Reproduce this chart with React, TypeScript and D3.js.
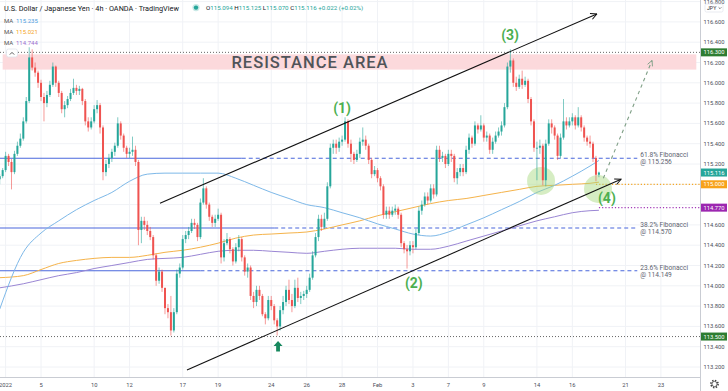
import React from 'react';
import * as d3 from 'd3';

// 4h USD/JPY bars, first bar is Dec 31 16:00 (bar index -2), Jan 3 00:00 is index 0
const firstIndex = -2;
const firstOpen = 115.05;
const closes = [
  115.08, 115.14,
  115.28, 115.22, 115.12, 115.30, 115.38, 115.45, // Jan 3
  115.62, 115.82, 116.25, 116.15, 116.10, 116.00, // Jan 4
  115.86, 115.80, 115.88, 115.98, 116.16, 116.00, // Jan 5
  115.90, 115.74, 115.78, 115.84, 115.90, 115.95, // Jan 6
  115.92, 115.94, 115.82, 115.62, 115.56, 115.62, // Jan 7
  115.74, 115.78, 115.56, 115.12, 115.20, 115.26, // Jan 10
  115.32, 115.38, 115.60, 115.48, 115.36, 115.30, // Jan 11
  115.32, 115.34, 115.22, 114.55, 114.64, 114.60, // Jan 12
  114.54, 114.48, 114.30, 114.05, 114.14, 113.98, // Jan 13
  113.78, 113.74, 113.56, 113.74, 114.12, 114.18, // Jan 14
  114.46, 114.50, 114.54, 114.62, 114.60, 114.48, // Jan 17
  114.82, 114.96, 114.80, 114.68, 114.62, 114.66, // Jan 18
  114.70, 114.28, 114.42, 114.46, 114.36, 114.24, // Jan 19
  114.38, 114.46, 114.28, 114.14, 114.18, 113.90, // Jan 20
  113.84, 113.96, 113.90, 113.72, 113.68, 113.86, // Jan 21
  113.80, 113.66, 113.60, 113.76, 113.84, 113.96, // Jan 24
  113.86, 113.80, 113.98, 113.88, 113.90, 113.92, // Jan 25
  113.96, 114.08, 114.30, 114.48, 114.66, 114.58, // Jan 26
  114.66, 114.98, 115.36, 115.40, 115.36, 115.42, // Jan 27
  115.44, 115.62, 115.40, 115.30, 115.24, 115.30, // Jan 28
  115.42, 115.44, 115.38, 115.24, 115.10, 115.14, // Jan 31
  115.06, 114.98, 114.70, 114.74, 114.70, 114.74, // Feb 1
  114.76, 114.70, 114.42, 114.36, 114.34, 114.40, // Feb 2
  114.38, 114.52, 114.74, 114.80, 114.88, 114.84, // Feb 3
  114.96, 114.90, 115.34, 115.26, 115.28, 115.20, // Feb 4
  115.30, 115.28, 115.06, 115.12, 115.16, 115.12, // Feb 7
  115.34, 115.46, 115.40, 115.58, 115.54, 115.58, // Feb 8
  115.46, 115.48, 115.34, 115.42, 115.48, 115.52, // Feb 9
  115.58, 115.76, 116.16, 116.22, 116.00, 115.96, // Feb 10
  116.04, 115.98, 116.02, 115.84, 115.62, 115.36, // Feb 11
  115.36, 115.38, 115.04, 115.40, 115.60, 115.56, // Feb 14
  115.48, 115.28, 115.46, 115.62, 115.58, 115.62, // Feb 15
  115.66, 115.58, 115.66, 115.56, 115.46, 115.42, // Feb 16
  115.40, 115.26, 115.094, 115.116                // Feb 17
];
const highs = [
  115.10, 115.16,
  115.32, 115.30, 115.25, 115.33, 115.42, 115.50,
  115.66, 115.86, 116.35, 116.33, 116.20, 116.12,
  116.03, 115.90, 115.92, 116.02, 116.20, 116.17,
  116.02, 115.92, 115.82, 115.87, 115.94, 116.04,
  115.98, 115.97, 115.95, 115.84, 115.66, 115.66,
  115.78, 115.83, 115.80, 115.58, 115.24, 115.30,
  115.35, 115.41, 115.66, 115.62, 115.50, 115.38,
  115.36, 115.47, 115.38, 115.24, 114.68, 114.68,
  114.64, 114.58, 114.50, 114.32, 114.18, 114.16,
  113.98, 113.82, 113.90, 113.78, 114.16, 114.22,
  114.50, 114.54, 114.58, 114.66, 114.66, 114.62,
  114.86, 115.06, 114.98, 114.82, 114.70, 114.70,
  114.76, 114.72, 114.46, 114.52, 114.48, 114.38,
  114.42, 114.50, 114.48, 114.30, 114.22, 114.20,
  113.94, 114.00, 114.00, 113.92, 113.74, 113.90,
  113.90, 113.82, 113.68, 113.80, 113.90, 114.00,
  114.06, 113.92, 114.06, 114.08, 113.94, 113.95,
  114.00, 114.12, 114.34, 114.52, 114.70, 114.70,
  114.72, 115.02, 115.40, 115.44, 115.44, 115.46,
  115.48, 115.66, 115.64, 115.44, 115.32, 115.34,
  115.46, 115.56, 115.48, 115.40, 115.26, 115.18,
  115.16, 115.08, 115.00, 114.78, 114.78, 114.78,
  114.80, 114.78, 114.72, 114.44, 114.40, 114.44,
  114.44, 114.56, 114.78, 114.84, 114.92, 114.92,
  115.00, 115.00, 115.38, 115.38, 115.32, 115.30,
  115.34, 115.34, 115.30, 115.16, 115.20, 115.20,
  115.38, 115.50, 115.48, 115.62, 115.60, 115.68,
  115.60, 115.52, 115.50, 115.46, 115.52, 115.56,
  115.62, 115.80, 116.20, 116.33, 116.24, 116.06,
  116.08, 116.12, 116.06, 116.04, 115.86, 115.64,
  115.42, 115.44, 115.40, 115.44, 115.64, 115.64,
  115.58, 115.50, 115.50, 115.84, 115.66, 115.66,
  115.70, 115.68, 115.76, 115.68, 115.58, 115.48,
  115.48, 115.42, 115.28, 115.125
];
const lows = [
  115.00, 115.06,
  115.12, 115.18, 114.95, 115.10, 115.28, 115.36,
  115.43, 115.60, 115.80, 116.12, 116.06, 115.95,
  115.82, 115.62, 115.76, 115.86, 115.96, 115.96,
  115.86, 115.70, 115.66, 115.75, 115.82, 115.88,
  115.88, 115.88, 115.78, 115.58, 115.52, 115.54,
  115.60, 115.70, 115.50, 115.04, 115.08, 115.16,
  115.22, 115.28, 115.36, 115.44, 115.32, 115.26,
  115.26, 115.28, 115.18, 114.40, 114.42, 114.55,
  114.50, 114.45, 114.26, 114.00, 114.02, 113.94,
  113.72, 113.68, 113.51, 113.54, 113.72, 114.08,
  114.16, 114.42, 114.46, 114.52, 114.56, 114.44,
  114.46, 114.80, 114.76, 114.64, 114.58, 114.58,
  114.64, 114.22, 114.24, 114.40, 114.32, 114.20,
  114.22, 114.34, 114.24, 114.10, 114.08, 113.86,
  113.78, 113.80, 113.86, 113.70, 113.62, 113.66,
  113.76, 113.62, 113.51, 113.56, 113.72, 113.80,
  113.82, 113.74, 113.78, 113.84, 113.82, 113.86,
  113.88, 113.94, 114.06, 114.28, 114.44, 114.54,
  114.56, 114.64, 114.96, 115.30, 115.30, 115.32,
  115.38, 115.42, 115.36, 115.22, 115.20, 115.22,
  115.26, 115.38, 115.34, 115.20, 115.06, 115.08,
  115.02, 114.94, 114.66, 114.66, 114.66, 114.68,
  114.70, 114.66, 114.38, 114.32, 114.17, 114.30,
  114.32, 114.36, 114.50, 114.70, 114.78, 114.80,
  114.82, 114.86, 114.88, 115.22, 115.22, 115.16,
  115.18, 115.22, 115.02, 115.00, 115.08, 115.08,
  115.10, 115.30, 115.36, 115.38, 115.50, 115.52,
  115.42, 115.42, 115.30, 115.30, 115.40, 115.46,
  115.48, 115.56, 115.74, 116.10, 115.96, 115.92,
  115.94, 115.94, 115.96, 115.80, 115.58, 115.32,
  115.04, 115.30, 114.99, 114.98, 115.38, 115.50,
  115.44, 115.24, 115.26, 115.44, 115.54, 115.56,
  115.58, 115.54, 115.56, 115.52, 115.42, 115.38,
  115.36, 115.22, 115.03, 115.07
];

// moving averages, read once per trading day
const maIdx = [-2, 6, 12, 18, 24, 30, 36, 42, 48, 54, 60, 66, 72, 78, 84, 90, 96, 102, 108, 114,
  120, 126, 132, 138, 144, 150, 156, 162, 168, 174, 180, 186, 192, 198, 201];
const maFast = [113.77, 114.33, 114.52, 114.64, 114.75, 114.84, 114.92, 115.03, 115.10, 115.11, 115.11,
  115.11, 115.11, 115.06, 114.99, 114.92, 114.86, 114.80, 114.77, 114.72, 114.67, 114.61, 114.56,
  114.51, 114.49, 114.53, 114.60, 114.67, 114.75, 114.83, 114.92, 114.99, 115.08, 115.18, 115.235];
const maMid = [114.08, 114.10, 114.16, 114.22, 114.25, 114.27, 114.28, 114.28, 114.30, 114.33, 114.35,
  114.38, 114.42, 114.47, 114.50, 114.51, 114.52, 114.53, 114.56, 114.60, 114.64, 114.69, 114.73,
  114.77, 114.81, 114.84, 114.86, 114.89, 114.92, 114.95, 114.98, 114.99, 115.00, 115.01, 115.021];
const maSlow = [113.98, 114.02, 114.06, 114.10, 114.13, 114.17, 114.20, 114.23, 114.26, 114.27, 114.28,
  114.31, 114.34, 114.35, 114.35, 114.34, 114.33, 114.32, 114.34, 114.36, 114.37, 114.37, 114.37,
  114.36, 114.36, 114.39, 114.44, 114.49, 114.54, 114.59, 114.64, 114.68, 114.72, 114.74, 114.744];

const dateLabels = ["2022", "5", "10", "12", "17", "19", "24", "26", "28", "Feb", "3", "7", "9", "14", "16", "21", "23"];
const dateDays = [0, 2, 5, 7, 10, 12, 15, 17, 19, 21, 23, 25, 27, 30, 32, 35, 37];
const priceTicks = [113.2, 113.4, 113.6, 113.8, 114.0, 114.2, 114.4, 114.6, 114.8, 115.0, 115.2, 115.4,
  115.6, 115.8, 116.0, 116.2, 116.4, 116.6, 116.8];

const fibNames = ["61.8% Fibonacci", "38.2% Fibonacci", "23.6% Fibonacci"];
const fibPrices = [115.256, 114.570, 114.149];
const fibSolidTo = [80, 91, 66];
const fibEnd = 214;

const resistanceBand = [116.13, 116.28];
const resistanceFrom = -1;
const resistanceTo = 234;

const waveNames = ["(1)", "(2)", "(3)", "(4)"];
const waveIdx = [114, 138.3, 170.9, 203.7];
const wavePrice = [115.752, 114.028, 116.471, 114.865];

const channelUpper = [[52.3, 114.813], [200.3, 116.678]];
const channelLower = [[61.45, 113.171], [208.5, 115.05]];
const projection = [[202.5, 115.06], [219, 116.22]];
const touchIdx = [181.4, 200.7];
const touchPrice = [115.033, 114.954];
const arrowIdx = 92.3;
const arrowPrice = 113.456;

const axisBoxes = [
  { price: 116.3, label: "116.300", color: "#2e7d32" },
  { price: 115.116, label: "115.116", color: "#26a69a" },
  { price: 115.0, label: "115.000", color: "#f7a21b" },
  { price: 114.77, label: "114.770", color: "#9c27b0" },
  { price: 113.5, label: "113.500", color: "#2e7d32" },
];

const W = 728, H = 391, plotR = 700, plotB = 377;
const UP = "#26a69a", DOWN = "#ef5350";
const font = "Roboto, 'Noto Sans', sans-serif";

export default function App() {
  const x = d3.scaleLinear().domain([0, 222]).range([5.6, 660.9]);
  const y = d3.scaleLinear().domain([113.2, 116.6]).range([367, 21.9]);

  const bars = closes.map((c, k) => ({
    i: firstIndex + k,
    o: k === 0 ? firstOpen : closes[k - 1],
    h: highs[k],
    l: lows[k],
    c,
  }));

  const maLine = d3.line<number>()
    .x((_, k) => x(maIdx[k]))
    .y(v => y(v))
    .curve(d3.curveMonotoneX);

  const seg = (p: number[][]) => ({ x1: x(p[0][0]), y1: y(p[0][1]), x2: x(p[1][0]), y2: y(p[1][1]) });
  const up = seg(channelUpper), lo = seg(channelLower), pr = seg(projection);

  const ax = x(arrowIdx), ay = y(arrowPrice);

  // axis price labels hidden behind a coloured price box
  const visibleTicks = priceTicks.filter(p => axisBoxes.every(b => Math.abs(y(p) - y(b.price)) > 6));

  return (
    <div style={{ position: 'fixed', left: 0, top: 0 }}>
      <svg width={W} height={H} style={{ display: 'block', background: '#fff', fontFamily: font }}>
        <defs>
          <clipPath id="plot"><rect x={0} y={0} width={plotR} height={plotB} /></clipPath>
          <marker id="arr" viewBox="0 0 10 10" refX="9" refY="5" markerWidth="7" markerHeight="7" orient="auto">
            <path d="M1,1 L9,5 L1,9" fill="none" stroke="#111" strokeWidth="1.3" />
          </marker>
          <marker id="arrG" viewBox="0 0 10 10" refX="9" refY="5" markerWidth="6" markerHeight="6" orient="auto">
            <path d="M1,1 L9,5 L1,9" fill="none" stroke="#7f9f86" strokeWidth="1.3" />
          </marker>
        </defs>

        {/* grid */}
        <g stroke="#f0f2f6" strokeWidth={1}>
          {priceTicks.map(p => <line key={p} x1={0} x2={plotR} y1={y(p)} y2={y(p)} />)}
          {dateDays.map(d => <line key={d} x1={x(d * 6)} x2={x(d * 6)} y1={0} y2={plotB} />)}
        </g>

        <g clipPath="url(#plot)">
          {/* resistance area */}
          <rect x={x(resistanceFrom)} width={x(resistanceTo) - x(resistanceFrom)}
            y={y(resistanceBand[1])} height={y(resistanceBand[0]) - y(resistanceBand[1])} fill="#fcd9dc" />

          {/* full width dotted levels */}
          <line x1={0} x2={plotR} y1={y(116.3)} y2={y(116.3)} stroke="#555" strokeWidth={0.9} strokeDasharray="1,2" />
          <line x1={0} x2={plotR} y1={y(113.5)} y2={y(113.5)} stroke="#555" strokeWidth={0.9} strokeDasharray="1,2" />

          {/* fibonacci levels */}
          {fibPrices.map((p, k) => (
            <g key={p} stroke="#4a67dc" strokeWidth={1.1}>
              <line x1={0} x2={x(fibSolidTo[k])} y1={y(p)} y2={y(p)} />
              <line x1={x(fibSolidTo[k])} x2={x(fibEnd)} y1={y(p)} y2={y(p)} strokeDasharray="4,3" />
            </g>
          ))}

          {/* rays from last bar */}
          <line x1={x(200)} x2={plotR} y1={y(115.0)} y2={y(115.0)} stroke="#f5a623" strokeWidth={1.2} strokeDasharray="1.2,2" />
          <line x1={x(201)} x2={plotR} y1={y(114.77)} y2={y(114.77)} stroke="#a33bb8" strokeWidth={1.2} strokeDasharray="1.2,2" />

          {/* moving averages */}
          <path d={maLine(maSlow) || ''} fill="none" stroke="#9a86d4" strokeWidth={1} />
          <path d={maLine(maMid) || ''} fill="none" stroke="#f5b34a" strokeWidth={1} />
          <path d={maLine(maFast) || ''} fill="none" stroke="#7db8e8" strokeWidth={1} />

          {/* touch circles */}
          {touchIdx.map((t, k) => (
            <circle key={t} cx={x(t)} cy={y(touchPrice[k])} r={14} fill="#a5d67a" opacity={0.45} />
          ))}

          {/* candles */}
          {bars.map(b => {
            const col = b.c >= b.o ? UP : DOWN;
            const cx = x(b.i);
            const top = y(Math.max(b.o, b.c));
            const bot = y(Math.min(b.o, b.c));
            return (
              <g key={b.i}>
                <line x1={cx} x2={cx} y1={y(b.h)} y2={y(b.l)} stroke={col} strokeWidth={0.9} opacity={0.65} />
                <rect x={cx - 1} width={2} y={top} height={Math.max(0.8, bot - top)} fill={col} />
              </g>
            );
          })}

          {/* channel */}
          <line {...up} stroke="#111" strokeWidth={1.1} markerEnd="url(#arr)" />
          <line {...lo} stroke="#111" strokeWidth={1.1} markerEnd="url(#arr)" />
          <line {...pr} stroke="#7f9f86" strokeWidth={1.1} strokeDasharray="3.5,3.5" markerEnd="url(#arrG)" />

          {/* green up arrow */}
          <path d={`M${ax},${ay} l-4.5,5 h2.6 v5.5 h3.8 v-5.5 h2.6 Z`} fill="#17885e" />

          {/* wave labels */}
          {waveNames.map((w, k) => (
            <text key={w} x={x(waveIdx[k])} y={y(wavePrice[k])} dy="0.35em" textAnchor="middle"
              fontSize={14} fontWeight={700} fill="#4caf50">{w}</text>
          ))}

          <text x={310} y={y(116.205)} dy="0.36em" textAnchor="middle" fontSize={16.5} fontWeight={500}
            fill="#505459" letterSpacing={1}>RESISTANCE AREA</text>

          {fibNames.map((n, k) => (
            <text key={n} x={x(fibEnd) + 3} y={y(fibPrices[k]) - 1} fontSize={6.6} fill="#5d6270">
              <tspan x={x(fibEnd) + 3}>{n}</tspan>
              <tspan x={x(fibEnd) + 3} dy={7}>@ {fibPrices[k].toFixed(3)}</tspan>
            </text>
          ))}
        </g>

        {/* collapse button */}
        <rect x={6.5} y={49} width={11} height={8} rx={2} fill="#fff" stroke="#e0e3eb" strokeWidth={0.8} />
        <path d="M9.8,54.6 L12,52.4 L14.2,54.6" fill="none" stroke="#333" strokeWidth={0.8} />

        {/* header */}
        <text x={4} y={10.5} fontSize={7.3} fill="#131722">U.S. Dollar / Japanese Yen · 4h · OANDA · TradingView</text>
        <circle cx={196} cy={7.6} r={3.6} fill="#26a69a" opacity={0.25} />
        <circle cx={196} cy={7.6} r={2.2} fill="#26a69a" />
        <text x={206} y={10.3} fontSize={6.2} fill="#26a69a">
          <tspan fill="#131722">O</tspan>115.094 <tspan fill="#131722">H</tspan>115.125 <tspan fill="#131722">L</tspan>115.070 <tspan fill="#131722">C</tspan>115.116 +0.022 (+0.02%)
        </text>
        {[["115.235", "#4d9ee0"], ["115.021", "#f5a623"], ["114.744", "#9c6fd0"]].map(([v, c], k) => (
          <text key={v} x={4} y={22.5 + k * 11} fontSize={6} fill="#555">
            MA <tspan x={16} fill={c}>{v}</tspan>
          </text>
        ))}

        {/* axes */}
        <line x1={plotR + 0.5} x2={plotR + 0.5} y1={0} y2={H} stroke="#c9ccd3" />
        <line x1={0} x2={plotR} y1={plotB + 0.5} y2={plotB + 0.5} stroke="#c9ccd3" />
        {visibleTicks.map(p => (
          <text key={p} x={714} y={y(p)} dy="0.35em" textAnchor="middle" fontSize={5.8} fill="#4a4e59">{p.toFixed(3)}</text>
        ))}
        {axisBoxes.map(b => (
          <g key={b.label}>
            <rect x={701} width={26} y={y(b.price) - 4} height={8} fill={b.color} />
            <text x={714} y={y(b.price)} dy="0.35em" textAnchor="middle" fontSize={5.8} fill="#fff">{b.label}</text>
          </g>
        ))}
        <rect x={705} y={4} width={18} height={8} rx={1.5} fill="#fff" stroke="#e0e3eb" strokeWidth={0.7} />
        <text x={707} y={10} fontSize={5.2} fill="#333">JPY</text>
        <path d="M718.6,7.3 L720,8.7 L721.4,7.3" fill="none" stroke="#333" strokeWidth={0.6} />
        {dateLabels.map((l, k) => (
          <text key={l + k} x={x(dateDays[k] * 6)} y={387} textAnchor="middle" fontSize={5.8} fill="#4a4e59">{l}</text>
        ))}
        {/* settings gear */}
        <circle cx={714.5} cy={384} r={3.6} fill="none" stroke="#444" strokeWidth={1.6} strokeDasharray="1.4,1.43" />
        <circle cx={714.5} cy={384} r={2.6} fill="none" stroke="#444" strokeWidth={0.8} />
      </svg>
    </div>
  );
}
